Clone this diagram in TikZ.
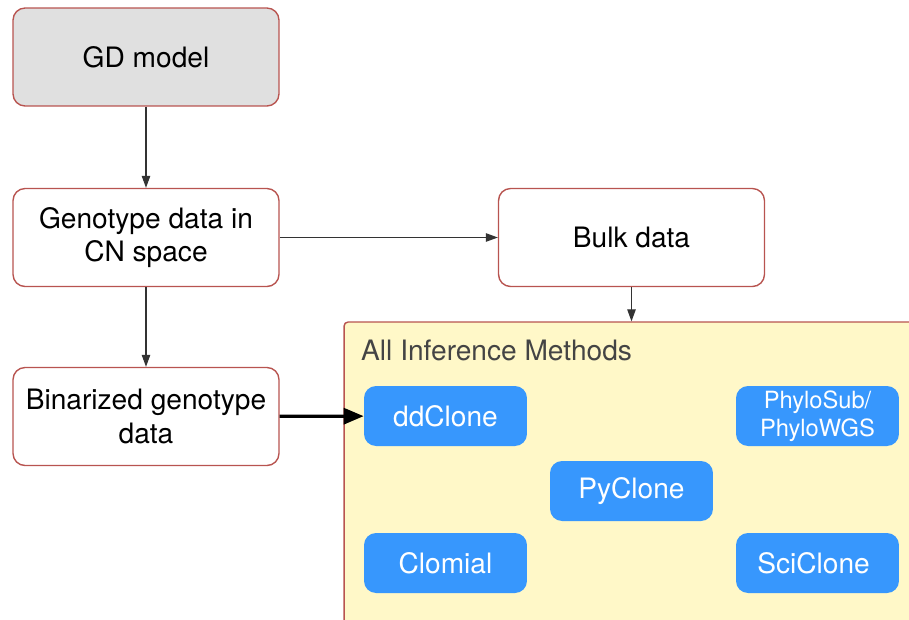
\documentclass[tikz,border=0pt]{standalone}
\usepackage{fontspec}
\setmainfont{TeX Gyre Heros}
\usepackage{xcolor}
\usepackage{tikz}
\usetikzlibrary{arrows.meta,positioning}

\definecolor{boxred}{HTML}{B85450}
\definecolor{modelgray}{HTML}{E0E0E0}
\definecolor{panelyellow}{HTML}{FFF8C8}
\definecolor{methodblue}{HTML}{3797FD}
\definecolor{titlegray}{HTML}{444444}

\tikzset{
  stagebox/.style={draw=boxred, line width=0.8pt, rounded corners=0.24cm, fill=white,
    minimum width=5.32cm, minimum height=1.96cm, align=center, inner sep=2pt},
  methodbox/.style={fill=methodblue, text=white, rounded corners=0.24cm,
    minimum width=3.26cm, minimum height=1.2cm, align=center, inner sep=1pt},
  flow/.style={draw=black!80, line width=0.6pt, -{Triangle[length=0.24cm,width=0.17cm]}},
}

\begin{document}
\begin{tikzpicture}[x=0.02cm,y=-0.02cm,font=\fontsize{16}{19}\selectfont]
\useasboundingbox (0,0) rectangle (909,619);
\clip (0,0) rectangle (909,619);

% pipeline stages on the left
\node[stagebox, fill=modelgray] (gd) at (146,57) {GD model};
\node[stagebox] (geno) at (146,237.5) {Genotype data in\\CN space};
\node[stagebox] (bin) at (146,416.5) {Binarized genotype\\data};
\node[stagebox] (bulk) at (631.5,237.5) {Bulk data};

% panel holding the methods (runs past the page edge)
\node[draw=boxred, line width=0.8pt, fill=panelyellow, rounded corners=0.08cm,
  minimum width=11.62cm, minimum height=6.36cm, inner sep=0pt] (panel) at (634.5,481) {};
\node[anchor=west, text=titlegray] (paneltitle) at (355,350) {All Inference Methods};

\foreach \name/\x/\y/\fs/\txt in {
    ddclone/445.5/416/16/ddClone,
    phylo/817.5/416/13.5/{PhyloSub/\\PhyloWGS},
    pyclone/631.5/491/16/PyClone,
    clomial/445.5/563/16/Clomial,
    sciclone/817.5/563/16/SciClone
} {
    \node[methodbox, font=\fontsize{\fs}{16}\selectfont] (\name) at (\x,\y) {\txt};
}

% connectors
\draw[flow] (gd) -- (geno);
\draw[flow] (geno) -- (bin);
\draw[flow] (geno) -- (bulk);
\draw[flow] (bulk) -- (bulk.south |- panel.north);
\draw[draw=black, line width=1.8pt, -{Triangle[length=0.4cm,width=0.32cm]}] (bin) -- (ddclone);
\end{tikzpicture}
\end{document}
